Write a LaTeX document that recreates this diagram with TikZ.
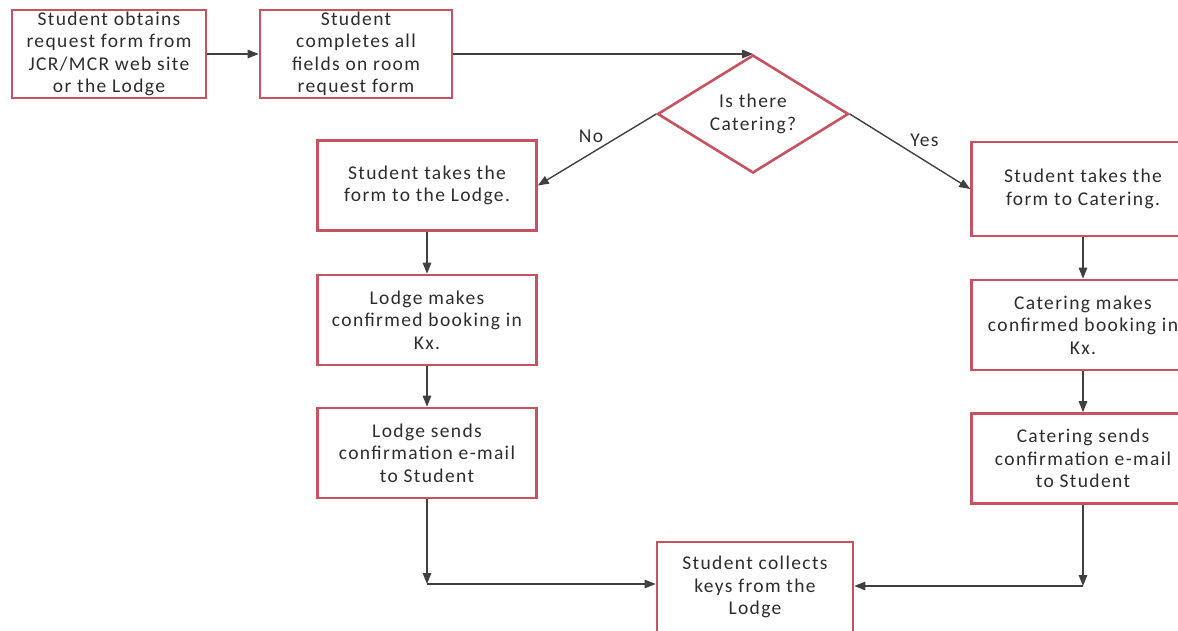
\documentclass[tikz,border=0pt]{standalone}
\usepackage{fontspec}
\setmainfont{Carlito}[LetterSpace=7]
\usetikzlibrary{arrows.meta,shapes.geometric}
\definecolor{boxred}{RGB}{200,82,98}
\definecolor{arrgray}{RGB}{64,64,64}
\definecolor{txtgray}{RGB}{45,45,45}
\tikzset{
  x=1pt,y=-1pt,
  procbox/.style={draw=boxred, line width=2.6pt, fill=white, text=txtgray,
    minimum width=#1, minimum height=90pt, inner sep=0pt, align=center,
    font=\fontsize{19.5}{22.5}\selectfont},
  procbox/.default=219pt,
  decision/.style={draw=boxred, line width=2.6pt, diamond, text=txtgray,
    minimum width=191pt, minimum height=118pt, inner sep=0pt, aspect=1.62,
    align=center, font=\fontsize{19.5}{22.5}\selectfont},
  flow/.style={draw=arrgray, line width=1.4pt, -{Triangle[length=11pt,width=8.5pt]}},
  lbl/.style={text=txtgray, font=\fontsize{19.5}{20}\selectfont, inner sep=0pt}
}
\begin{document}
\begin{tikzpicture}
\useasboundingbox (0,0) rectangle (1178,630);
\node[procbox=194pt, minimum height=88pt] (a) at (109,54) {Student obtains\\request form from\\JCR/MCR web site\\or the Lodge};
\node[procbox=192pt, minimum height=88pt] (b) at (356,54) {Student\\completes all\\fields on room\\request form};
\node[decision] (d) at (753,114) {Is there\\Catering?};
\node[procbox] (l1) at (427,185.5) {Student takes the\\form to the Lodge.};
\node[procbox] (l2) at (427,320) {Lodge makes\\confirmed booking in\\Kx.};
\node[procbox] (l3) at (427,453) {Lodge sends\\confirmation e-mail\\to Student};
\node[procbox=223pt, minimum height=94pt] (r1) at (1083,189) {Student takes the\\form to Catering.};
\node[procbox=223pt] (r2) at (1083,325) {Catering makes\\confirmed booking in\\Kx.};
\node[procbox=223pt] (r3) at (1083,458.5) {Catering sends\\confirmation e-mail\\to Student};
\node[procbox=196pt] (f) at (755,587) {Student collects\\keys from the\\Lodge};
\coordinate (bl) at (427,584);
\coordinate (br) at (1083,586);
\draw[flow] (a.east) -- (b.east -| b.west);
\draw[flow] (b.east) -- (b.east -| d.north);
\draw[flow] (d.west) -- (l1.east) node[lbl, pos=0.55, above=10pt] {No};
\draw[flow] (d.east) -- (r1.west) node[lbl, pos=0.62, above=13pt] {Yes};
\draw[flow] (l1) -- (l2);
\draw[flow] (l2) -- (l3);
\draw[flow] (r1) -- (r2);
\draw[flow] (r2) -- (r3);
\draw[flow] (l3.south) -- (bl);
\draw[flow] (bl) -- (f.west |- bl);
\draw[flow] (r3.south) -- (br);
\draw[flow] (br) -- (f.east |- br);
\end{tikzpicture}
\end{document}
